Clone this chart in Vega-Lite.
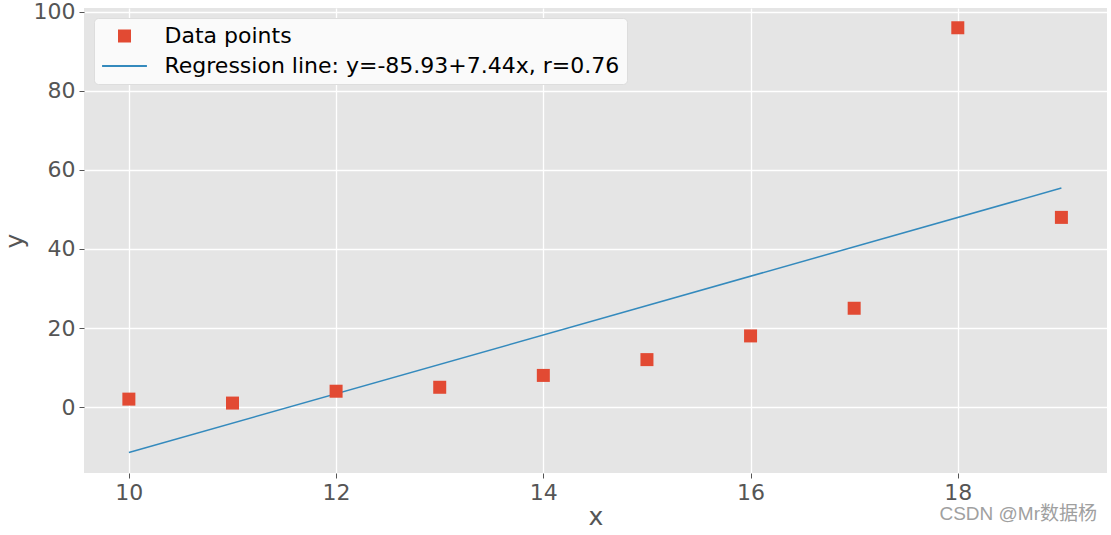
{
  "$schema": "https://vega.github.io/schema/vega-lite/v6.json",
  "width": 1023,
  "height": 465,
  "autosize": {"type": "none"},
  "padding": {"left": 84, "top": 8, "right": 4, "bottom": 62},
  "background": "white",
  "config": {
    "view": {"fill": "#E5E5E5", "stroke": null},
    "font": "DejaVu Sans",
    "axis": {
      "domain": false,
      "grid": true,
      "gridColor": "#FFFFFF",
      "gridWidth": 1.3,
      "tickColor": "#555555",
      "tickSize": 5,
      "tickWidth": 1,
      "labelColor": "#555555",
      "labelFont": "DejaVu Sans",
      "labelFontSize": 22,
      "titleColor": "#555555",
      "titleFont": "DejaVu Sans",
      "titleFontSize": 25,
      "titleFontWeight": "normal"
    }
  },
  "title": {
    "text": "CSDN @Mr数据杨",
    "orient": "bottom",
    "anchor": "end",
    "frame": "group",
    "font": "Liberation Sans, Noto Sans CJK SC",
    "fontSize": 19,
    "fontWeight": "normal",
    "color": "#A0A0A0",
    "offset": -24,
    "dx": -10
  },
  "datasets": {
    "points": [
      {"x": 10, "y": 2, "series": "Data points"},
      {"x": 11, "y": 1, "series": "Data points"},
      {"x": 12, "y": 4, "series": "Data points"},
      {"x": 13, "y": 5, "series": "Data points"},
      {"x": 14, "y": 8, "series": "Data points"},
      {"x": 15, "y": 12, "series": "Data points"},
      {"x": 16, "y": 18, "series": "Data points"},
      {"x": 17, "y": 25, "series": "Data points"},
      {"x": 18, "y": 96, "series": "Data points"},
      {"x": 19, "y": 48, "series": "Data points"}
    ],
    "line": [
      {"x": 10, "y": -11.53, "series": "Regression line: y=-85.93+7.44x, r=0.76"},
      {"x": 19, "y": 55.43, "series": "Regression line: y=-85.93+7.44x, r=0.76"}
    ]
  },
  "layer": [
    {
      "data": {"name": "line"},
      "mark": {"type": "line", "strokeWidth": 1.5, "clip": true},
      "encoding": {
        "x": {"field": "x", "type": "quantitative", "scale": {"domain": [9.567, 19.44], "nice": false, "zero": false}, "axis": {"values": [10, 12, 14, 16, 18], "format": "d", "title": "x", "labelPadding": 4, "titlePadding": 1}},
        "y": {"field": "y", "type": "quantitative", "scale": {"domain": [-16.7, 101.0], "nice": false, "zero": false}, "axis": {"values": [0, 20, 40, 60, 80, 100], "format": "d", "title": "y", "labelPadding": 4, "titlePadding": 6}},
        "color": {"field": "series", "type": "nominal", "scale": {"domain": ["Data points", "Regression line: y=-85.93+7.44x, r=0.76"], "range": ["#E24A33", "#348ABD"]}}
      }
    },
    {
      "data": {"name": "points"},
      "mark": {"type": "point", "filled": true, "opacity": 1, "size": 169, "shape": "square"},
      "encoding": {
        "x": {"field": "x", "type": "quantitative"},
        "y": {"field": "y", "type": "quantitative"},
        "color": {"field": "series", "type": "nominal", "legend": {
          "title": null,
          "orient": "top-left",
          "offset": 10,
          "padding": 7,
          "fillColor": "#FAFAFA",
          "strokeColor": "#DDDDDD",
          "cornerRadius": 4,
          "labelFont": "DejaVu Sans",
          "labelFontSize": 22,
          "labelColor": "#000000",
          "labelLimit": 0,
          "labelOffset": 29,
          "symbolOffset": 12.5,
          "rowPadding": 8,
          "symbolSize": 169,
          "symbolOpacity": 1,
          "encode": {
            "symbols": {
              "update": {
                "stroke": {"scale": "color", "field": "value"},
                "strokeWidth": {"signal": "datum.value === 'Data points' ? 0 : 1.8"}
              }
            }
          }
        }},
        "shape": {"field": "series", "type": "nominal", "scale": {"domain": ["Data points", "Regression line: y=-85.93+7.44x, r=0.76"], "range": ["square", "M-3.45,0L3.45,0"]}}
      }
    }
  ]
}
